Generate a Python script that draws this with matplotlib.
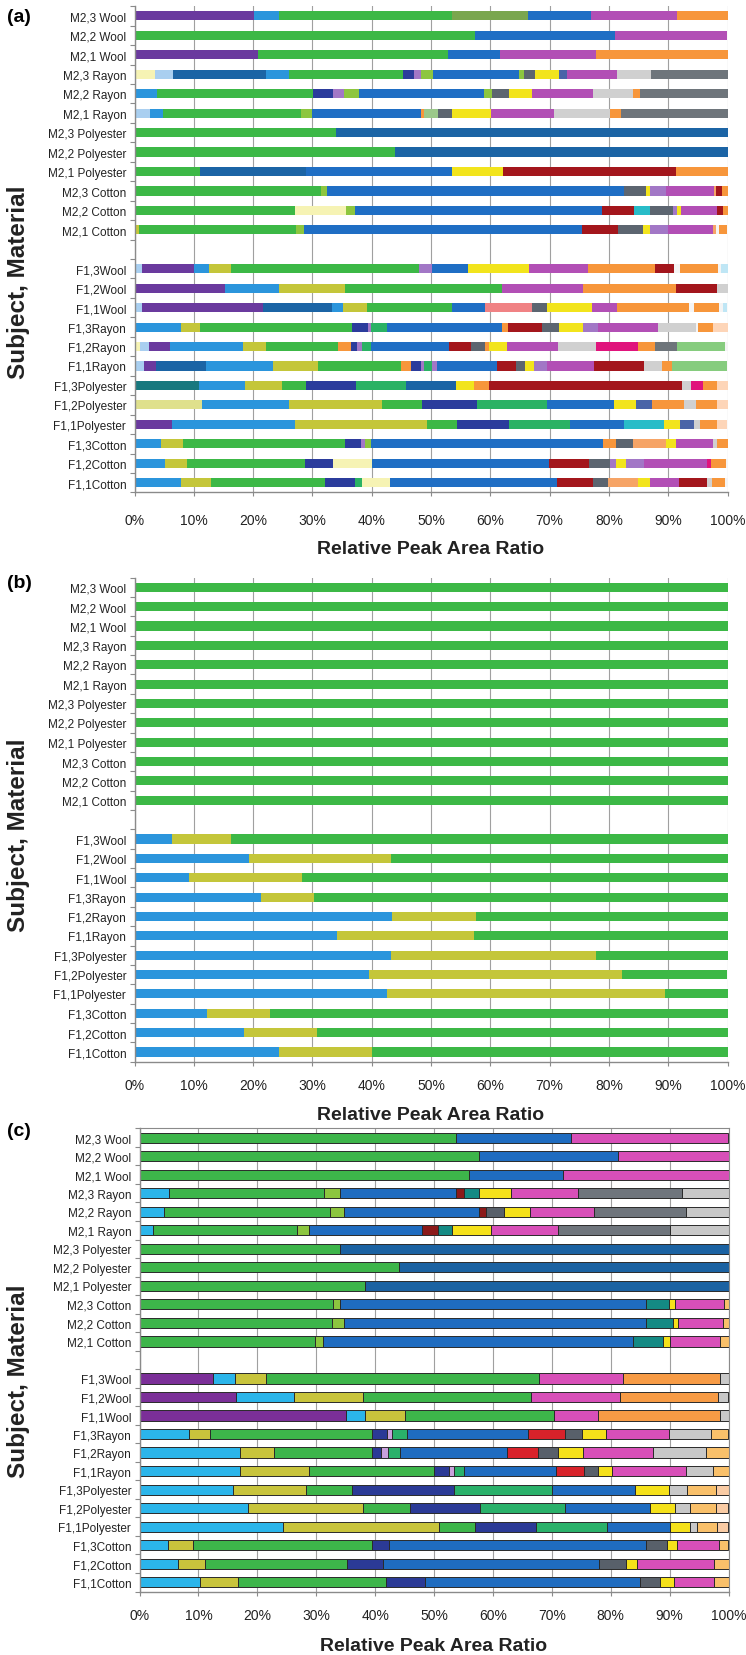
"""
Stacked relative peak area ratio bars for three panels (a), (b), (c).
Each row: subject (M2 / F1), replicate, fabric material.
"""

import matplotlib
matplotlib.use("Agg")
import matplotlib.pyplot as plt
from matplotlib import font_manager
import numpy as np

W, H = 746, 1656

M2_LABELS = [
    "M2,3 Wool", "M2,2 Wool", "M2,1 Wool",
    "M2,3 Rayon", "M2,2 Rayon", "M2,1 Rayon",
    "M2,3 Polyester", "M2,2 Polyester", "M2,1 Polyester",
    "M2,3 Cotton", "M2,2 Cotton", "M2,1 Cotton",
]
F1_LABELS = [
    "F1,3Wool", "F1,2Wool", "F1,1Wool",
    "F1,3Rayon", "F1,2Rayon", "F1,1Rayon",
    "F1,3Polyester", "F1,2Polyester", "F1,1Polyester",
    "F1,3Cotton", "F1,2Cotton", "F1,1Cotton",
]
XTICKS = [0, 10, 20, 30, 40, 50, 60, 70, 80, 90, 100]

# colour codes used in panel (a)
COLORS_A = {
    "pu": "#6a3a9e", "lb": "#2b95dc", "gr": "#3cb846", "ol": "#7aa64e",
    "bl": "#1f6ec4", "sb": "#1b64a5", "mg": "#b24fb5", "or": "#f7963b",
    "py": "#f6f3b4", "vl": "#a9cff0", "nv": "#2b3c9c", "lv": "#a277c6",
    "li": "#8dc63f", "dg": "#5c6570", "ye": "#f2e41c", "lg": "#d0d0d0",
    "gy": "#6e757b", "dr": "#a3161c", "cy": "#28bcc8", "oy": "#c4c63a",
    "sa": "#f08284", "te": "#18787e", "cr": "#e0147c", "lgr": "#86cc7e",
    "sg": "#2ab264", "pe": "#fdd5b8", "lo": "#f6a466", "kh": "#dfe08c",
    "sl": "#4a64a8", "wh": "#f4f4f4", "pc": "#bfe6f5", "sg2": "#9bc88a",
}

# colour codes used in panel (c)
COLORS_C = {
    "cy": "#2bb5ea", "pu": "#7b2f98", "oy": "#c8c43c", "gr": "#3db54a",
    "mg": "#d84fb8", "or": "#f79b45", "lg": "#c8c8c8", "nv": "#2b3a96",
    "lv": "#c9a0dc", "sg": "#2ab16a", "bl": "#1f6cc0", "sb": "#1b62a2",
    "re": "#d8222a", "dg": "#58606a", "ye": "#f5e11a", "lo": "#f9c06a",
    "pe": "#f9cba4", "te": "#148a84", "dr": "#8b1a1a", "li": "#8cc63f",
    "gy": "#6f757c",
}

# panel (a): segment (colour code, width in %) per row, top to bottom
PANEL_A_M2 = [
    [("pu", 20.1), ("lb", 4.3), ("gr", 29.2), ("ol", 12.7), ("bl", 10.7), ("mg", 14.5), ("or", 8.5)],
    [("gr", 57.4), ("bl", 23.6), ("mg", 19.0)],
    [("pu", 20.8), ("gr", 32.0), ("bl", 8.9), ("mg", 16.1), ("or", 22.2)],
    [("py", 3.4), ("vl", 3.1), ("sb", 15.7), ("lb", 3.8), ("gr", 19.2), ("nv", 1.9), ("lv", 1.2),
     ("li", 2.1), ("bl", 14.5), ("li", 0.8), ("dg", 1.9), ("ye", 4.0), ("sl", 1.3), ("mg", 8.5),
     ("lg", 5.7), ("gy", 12.9)],
    [("lb", 3.8), ("gr", 26.3), ("nv", 3.4), ("lv", 1.9), ("li", 2.4), ("bl", 21.2), ("li", 1.3),
     ("dg", 2.8), ("ye", 4.0), ("mg", 10.3), ("lg", 6.7), ("or", 1.2), ("gy", 14.7)],
    [("vl", 2.6), ("lb", 2.2), ("gr", 23.3), ("li", 1.8), ("bl", 18.4), ("or", 0.5), ("sg2", 2.4),
     ("dg", 2.4), ("ye", 6.6), ("mg", 10.6), ("lg", 9.4), ("or", 1.8), ("gy", 18.0)],
    [("gr", 33.9), ("sb", 66.1)],
    [("gr", 43.9), ("sb", 56.1)],
    [("gr", 11.0), ("sb", 18.0), ("bl", 24.6), ("ye", 8.6), ("dr", 29.1), ("or", 8.7)],
    [("gr", 31.5), ("li", 1.0), ("bl", 50.0), ("dg", 3.8), ("ye", 0.7), ("lv", 2.7), ("mg", 8.0),
     ("lo", 0.4), ("dr", 0.9), ("or", 1.0)],
    [("oy", 0.3), ("gr", 26.8), ("py", 8.5), ("li", 1.6), ("bl", 41.7), ("dr", 5.4), ("cy", 2.6),
     ("dg", 3.9), ("lv", 0.6), ("ye", 0.8), ("mg", 6.1), ("dr", 0.9), ("or", 0.8)],
    [("oy", 0.7), ("gr", 26.6), ("li", 1.3), ("bl", 46.9), ("dr", 6.0), ("dg", 4.3), ("ye", 1.1),
     ("lv", 3.1), ("mg", 7.6), ("lo", 0.4), ("wh", 0.5), ("or", 1.5)],
]
PANEL_A_F1 = [
    [("vl", 1.2), ("pu", 8.9), ("lb", 2.4), ("oy", 3.8), ("gr", 31.7), ("lv", 2.2), ("bl", 6.1),
     ("ye", 10.2), ("mg", 9.9), ("or", 11.4), ("dr", 3.2), ("wh", 1.0), ("or", 6.4), ("wh", 0.5),
     ("pc", 1.1)],
    [("pu", 15.3), ("lb", 9.1), ("oy", 11.1), ("gr", 26.4), ("mg", 13.8), ("or", 15.6), ("dr", 7.0),
     ("lg", 1.7)],
    [("vl", 1.2), ("pu", 20.4), ("sb", 11.7), ("lb", 1.9), ("oy", 4.0), ("gr", 14.4), ("bl", 5.5),
     ("sa", 7.9), ("dg", 2.6), ("ye", 7.6), ("mg", 4.2), ("or", 12.1), ("wh", 0.8), ("or", 4.3),
     ("wh", 0.7), ("pc", 0.7)],
    [("lb", 7.8), ("oy", 3.3), ("gr", 25.6), ("nv", 2.6), ("lv", 0.6), ("sg", 2.7), ("bl", 19.4),
     ("or", 1.0), ("dr", 5.8), ("dg", 2.8), ("ye", 4.0), ("lv", 2.6), ("mg", 10.0), ("lg", 6.5),
     ("wh", 0.3), ("or", 2.6), ("pe", 2.4)],
    [("py", 1.0), ("vl", 1.5), ("pu", 3.5), ("lb", 12.3), ("oy", 3.9), ("gr", 12.1), ("or", 2.2),
     ("nv", 1.0), ("lv", 0.9), ("sg", 1.4), ("bl", 13.2), ("dr", 3.7), ("dg", 2.4), ("or", 0.6),
     ("ye", 3.2), ("mg", 8.5), ("lg", 6.4), ("cr", 7.1), ("or", 2.9), ("gy", 3.6), ("lgr", 8.2),
     ("wh", 0.4)],
    [("vl", 1.6), ("pu", 2.1), ("sb", 8.4), ("lb", 11.2), ("oy", 7.7), ("gr", 14.0), ("or", 1.7),
     ("nv", 1.6), ("lv", 0.5), ("sg", 1.3), ("lv", 0.9), ("bl", 10.1), ("dr", 3.2), ("dg", 1.6),
     ("ye", 1.5), ("lv", 2.1), ("mg", 8.0), ("dr", 8.5), ("lg", 2.9), ("or", 1.8), ("lgr", 9.3)],
    [("te", 10.9), ("lb", 7.8), ("oy", 6.2), ("gr", 4.0), ("nv", 8.5), ("sg", 8.3), ("sb", 8.5),
     ("ye", 3.0), ("or", 2.6), ("dr", 32.6), ("lg", 1.4), ("cr", 2.0), ("or", 2.5), ("pe", 1.7)],
    [("kh", 11.3), ("lb", 14.7), ("oy", 15.8), ("gr", 6.6), ("nv", 9.4), ("sg", 11.7), ("bl", 11.4),
     ("ye", 3.7), ("sl", 2.6), ("or", 5.5), ("lg", 2.0), ("or", 3.5), ("pe", 1.8)],
    [("pu", 6.3), ("lb", 20.8), ("oy", 22.2), ("gr", 5.1), ("nv", 8.7), ("sg", 10.3), ("bl", 9.1),
     ("cy", 6.8), ("ye", 2.7), ("sl", 2.3), ("lg", 1.0), ("or", 3.0), ("pe", 1.7)],
    [("lb", 4.4), ("oy", 3.7), ("gr", 27.4), ("nv", 2.7), ("lv", 0.7), ("li", 0.9), ("bl", 39.2),
     ("or", 2.2), ("dg", 2.9), ("lo", 5.5), ("ye", 1.7), ("mg", 6.3), ("lg", 0.7), ("or", 1.7)],
    [("lb", 5.2), ("oy", 3.6), ("gr", 20.0), ("nv", 4.6), ("py", 6.6), ("bl", 29.9), ("dr", 6.7),
     ("dg", 3.6), ("lv", 1.0), ("ye", 1.7), ("lv", 3.0), ("mg", 10.7), ("cr", 0.7), ("or", 2.4),
     ("wh", 0.3)],
    [("lb", 7.8), ("oy", 5.1), ("gr", 19.2), ("nv", 5.1), ("sg", 1.2), ("py", 4.7), ("bl", 28.2),
     ("dr", 6.0), ("dg", 2.6), ("lo", 5.0), ("ye", 2.0), ("mg", 5.0), ("dr", 4.7), ("lg", 0.8),
     ("or", 2.2), ("wh", 0.4)],
]

# panel (b): three fractions per F1 row, M2 rows are 100 % green
PANEL_B_M2_GREEN = [100.0] * 12
PANEL_B_F1_BLUE = [6.3, 19.3, 9.2, 21.4, 43.5, 34.1, 43.3, 39.6, 42.5, 12.2, 18.4, 24.4]
PANEL_B_F1_OLIVE = [9.9, 24.0, 19.1, 8.8, 14.1, 23.1, 34.6, 42.6, 47.0, 10.7, 12.4, 15.7]
PANEL_B_F1_GREEN = [83.8, 56.7, 71.7, 69.8, 42.4, 42.8, 22.1, 17.8, 10.5, 77.1, 69.2, 59.9]

# panel (c)
PANEL_C_M2 = [
    [("gr", 53.7), ("bl", 19.5), ("mg", 26.8)],
    [("gr", 57.6), ("bl", 23.6), ("mg", 18.8)],
    [("gr", 55.9), ("bl", 16.0), ("mg", 28.1)],
    [("cy", 5.0), ("gr", 26.3), ("li", 2.8), ("bl", 19.6), ("dr", 1.4), ("te", 2.5), ("ye", 5.5),
     ("mg", 11.4), ("gy", 17.6), ("lg", 7.9)],
    [("cy", 4.2), ("gr", 28.1), ("li", 2.4), ("bl", 22.9), ("dr", 1.2), ("dg", 3.0), ("ye", 4.5),
     ("mg", 10.9), ("gy", 15.5), ("lg", 7.3)],
    [("cy", 2.3), ("gr", 24.5), ("li", 1.9), ("bl", 19.3), ("dr", 2.7), ("te", 2.3), ("ye", 6.7),
     ("mg", 11.4), ("gy", 19.0), ("lg", 9.9)],
    [("gr", 34.0), ("sb", 66.0)],
    [("gr", 44.0), ("sb", 56.0)],
    [("gr", 38.3), ("sb", 61.7)],
    [("gr", 32.9), ("li", 1.1), ("bl", 52.0), ("te", 3.9), ("ye", 1.0), ("mg", 8.3), ("lo", 0.8)],
    [("gr", 32.7), ("li", 2.1), ("bl", 51.2), ("te", 4.5), ("ye", 1.0), ("mg", 7.5), ("lo", 1.0)],
    [("gr", 29.8), ("li", 1.3), ("bl", 52.7), ("te", 5.0), ("ye", 1.3), ("mg", 8.4), ("lo", 1.5)],
]
PANEL_C_F1 = [
    [("pu", 12.4), ("cy", 3.8), ("oy", 5.2), ("gr", 46.4), ("mg", 14.3), ("or", 16.4), ("lg", 1.5)],
    [("pu", 16.3), ("cy", 9.9), ("oy", 11.8), ("gr", 28.5), ("mg", 15.1), ("or", 16.6), ("lg", 1.8)],
    [("pu", 35.1), ("cy", 3.2), ("oy", 6.7), ("gr", 25.3), ("mg", 7.6), ("or", 20.6), ("lg", 1.5)],
    [("cy", 8.4), ("oy", 3.5), ("gr", 27.5), ("nv", 2.6), ("lv", 0.8), ("sg", 2.6), ("bl", 20.6),
     ("re", 6.3), ("dg", 2.9), ("ye", 4.0), ("mg", 10.7), ("lg", 7.1), ("lo", 3.0)],
    [("cy", 17.1), ("oy", 5.7), ("gr", 16.7), ("nv", 1.5), ("lv", 1.2), ("sg", 2.0), ("bl", 18.2),
     ("re", 5.3), ("dg", 3.4), ("ye", 4.2), ("mg", 11.8), ("lg", 9.0), ("lo", 3.9)],
    [("cy", 17.1), ("oy", 11.6), ("gr", 21.3), ("nv", 2.5), ("lv", 0.9), ("sg", 1.7), ("bl", 15.6),
     ("re", 4.8), ("dg", 2.4), ("ye", 2.3), ("mg", 12.5), ("lg", 4.6), ("lo", 2.7)],
    [("cy", 15.8), ("oy", 12.4), ("gr", 7.9), ("nv", 17.3), ("sg", 16.7), ("bl", 14.1), ("ye", 5.7),
     ("lg", 3.0), ("lo", 4.9), ("pe", 2.2)],
    [("cy", 18.4), ("oy", 19.6), ("gr", 8.0), ("nv", 11.8), ("sg", 14.5), ("bl", 14.4), ("ye", 4.2),
     ("lg", 2.6), ("lo", 4.3), ("pe", 2.2)],
    [("cy", 24.4), ("oy", 26.4), ("gr", 6.1), ("nv", 10.4), ("sg", 12.1), ("bl", 10.7), ("ye", 3.3),
     ("lg", 1.3), ("lo", 3.3), ("pe", 2.0)],
    [("cy", 4.9), ("oy", 4.2), ("gr", 30.3), ("nv", 3.0), ("bl", 43.6), ("dg", 3.5), ("ye", 1.8),
     ("mg", 7.1), ("lo", 1.6)],
    [("cy", 6.6), ("oy", 4.5), ("gr", 24.2), ("nv", 6.1), ("bl", 36.6), ("dg", 4.6), ("ye", 1.9),
     ("mg", 13.1), ("lo", 2.4)],
    [("cy", 10.3), ("oy", 6.4), ("gr", 25.1), ("nv", 6.7), ("bl", 36.5), ("dg", 3.4), ("ye", 2.3),
     ("mg", 6.9), ("lo", 2.4)],
]

FONT_NAMES = {f.name for f in font_manager.fontManager.ttflist}
NARROW = "Liberation Sans Narrow" in FONT_NAMES
TICK_FONT = "Liberation Sans Narrow" if NARROW else "Liberation Sans"
YTICK_SIZE = 10.0 if NARROW else 8.5
XTICK_SIZE = 11.5 if NARROW else 10.0
TITLE_FONT = "Liberation Sans"

GRID_COLOR = "#a0a0a0"
AXIS_COLOR = "#8a8a8a"


def make_axes(fig, left_px, right_px, top_px, bottom_px):
    return fig.add_axes([
        left_px / W,
        1 - bottom_px / H,
        (right_px - left_px) / W,
        (bottom_px - top_px) / H,
    ])


def draw_rows(ax, rows, colors, height, edge=None, lw=0.0):
    for i, segs in enumerate(rows):
        left = 0.0
        for code, width in segs:
            ax.barh(i, width, left=left, height=height, color=colors[code],
                    edgecolor=edge if edge else colors[code], linewidth=lw)
            left += width


def style_axes(ax, labels, xpad, framed=False):
    n = len(labels)
    ax.set_xlim(0, 100)
    ax.set_ylim(n - 0.5, -0.5)
    ax.set_xticks(XTICKS)
    ax.set_xticklabels([f"{v}%" for v in XTICKS], fontsize=XTICK_SIZE,
                       family=TICK_FONT, color="#222222")
    ax.set_yticks(np.arange(-0.5, n, 1.0))
    ax.set_yticklabels([])
    ax.set_yticks(np.arange(n), minor=True)
    ax.set_yticklabels(labels, minor=True, fontsize=YTICK_SIZE,
                       family=TICK_FONT, color="#222222")
    ax.tick_params(axis="y", which="major", length=3.5, width=0.8,
                   color=AXIS_COLOR, direction="out")
    ax.tick_params(axis="y", which="minor", length=0, pad=6)
    ax.tick_params(axis="x", which="major", length=3, width=0.8,
                   color=AXIS_COLOR, direction="out", pad=xpad)
    ax.xaxis.grid(True, color=GRID_COLOR, linewidth=0.8)
    ax.set_axisbelow(True)
    for side in ["left", "bottom"]:
        ax.spines[side].set_color(AXIS_COLOR)
        ax.spines[side].set_linewidth(1.0)
    for side in ["top", "right"]:
        ax.spines[side].set_visible(framed)
        ax.spines[side].set_color(AXIS_COLOR)


def add_titles(fig, ax, letter, letter_y, xlabel_y, ylabel_y):
    fig.text(7 / W, 1 - letter_y / H, letter, fontsize=14, fontweight="bold",
             family=TITLE_FONT, ha="left", va="center")
    pos = ax.get_position()
    fig.text(pos.x0 + pos.width / 2, 1 - xlabel_y / H, "Relative Peak Area Ratio",
             fontsize=14, fontweight="bold", family=TITLE_FONT, color="#222222",
             ha="center", va="center")
    fig.text(19 / W, 1 - ylabel_y / H, "Subject, Material", fontsize=17.5,
             fontweight="bold", family=TITLE_FONT, color="#222222",
             rotation=90, ha="center", va="center")


def main() -> None:
    labels = M2_LABELS + [""] + F1_LABELS

    fig = plt.figure(figsize=(W / 100, H / 100), dpi=100)
    fig.patch.set_facecolor("white")

    # (a)
    ax_a = make_axes(fig, 134.5, 727.5, 7.2, 493.4)
    rows_a = PANEL_A_M2 + [[]] + PANEL_A_F1
    draw_rows(ax_a, rows_a, COLORS_A, 0.47)
    style_axes(ax_a, labels, xpad=12)
    add_titles(fig, ax_a, "(a)", 17, 549, 282)

    # (b)
    ax_b = make_axes(fig, 134.5, 727.5, 578.6, 1062.7)
    rows_b = [[("gr", g)] for g in PANEL_B_M2_GREEN] + [[]]
    for b, o, g in zip(PANEL_B_F1_BLUE, PANEL_B_F1_OLIVE, PANEL_B_F1_GREEN):
        rows_b.append([("lb", b), ("oy", o), ("gr", g)])
    draw_rows(ax_b, rows_b, COLORS_A, 0.47)
    style_axes(ax_b, labels, xpad=9)
    add_titles(fig, ax_b, "(b)", 584, 1116, 835)

    # (c)
    ax_c = make_axes(fig, 139.5, 728.5, 1129.4, 1592.5)
    rows_c = PANEL_C_M2 + [[]] + PANEL_C_F1
    draw_rows(ax_c, rows_c, COLORS_C, 0.55, edge="#2a2a2a", lw=0.7)
    style_axes(ax_c, labels, xpad=9, framed=True)
    add_titles(fig, ax_c, "(c)", 1132, 1647, 1381)

    fig.savefig("out.png", dpi=100, facecolor="white")
    plt.close(fig)


if __name__ == "__main__":
    main()
